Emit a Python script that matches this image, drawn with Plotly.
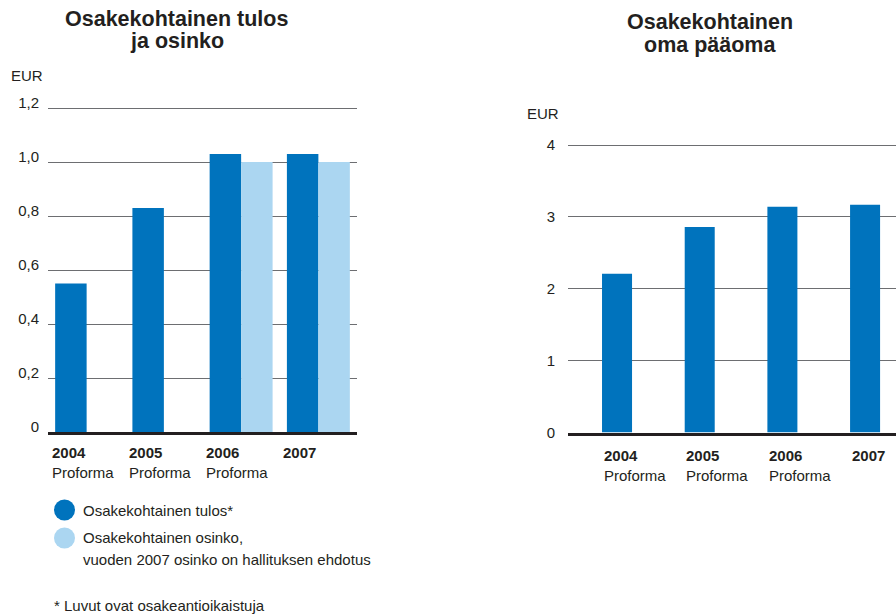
import plotly.graph_objects as go

# ---- data ----
years = ["2004", "2005", "2006", "2007"]
year_sub = ["Proforma", "Proforma", "Proforma", ""]
eps = [0.55, 0.83, 1.03, 1.03]          # Osakekohtainen tulos
dividend = [None, None, 1.00, 1.00]      # Osakekohtainen osinko
equity = [2.21, 2.86, 3.14, 3.17]        # Osakekohtainen oma pääoma

left_ticks = [0, 0.2, 0.4, 0.6, 0.8, 1.0, 1.2]
left_ticktext = ["0", "0,2", "0,4", "0,6", "0,8", "1,0", "1,2"]
right_ticks = [0, 1, 2, 3, 4]
right_ticktext = ["0", "1", "2", "3", "4"]

DARK = "#0073BD"
LIGHT = "#ABD6F1"
TXT = "#231f20"
GRID = "#6d6e71"
FONT = "Liberation Sans"

W, H = 896, 614


def px(x):
    return x / W


def py(y):
    return 1 - y / H


fig = go.Figure()
fig.add_trace(go.Bar(x=years, y=eps, marker_color=DARK, xaxis="x", yaxis="y",
                     name="Osakekohtainen tulos*"))
fig.add_trace(go.Bar(x=years, y=dividend, marker_color=LIGHT, xaxis="x", yaxis="y",
                     name="Osakekohtainen osinko"))
fig.add_trace(go.Bar(x=years, y=equity, marker_color=DARK, xaxis="x2", yaxis="y2",
                     width=0.363, name="Osakekohtainen oma pääoma"))
for t in fig.data:
    t.marker.line.width = 0

axis_common = dict(showgrid=False, zeroline=False, showline=True, linecolor=TXT,
                   linewidth=2.5, showticklabels=False, ticks="", fixedrange=True)
yaxis_common = dict(showgrid=True, gridcolor=GRID, gridwidth=1.2, zeroline=False,
                    showline=False, ticks="", tickfont=dict(family=FONT, size=15, color=TXT),
                    fixedrange=True, automargin=False)

L_TOP, R_TOP = 1.2 + 2 / 270, 4 + 2 / 71.9

fig.update_layout(
    width=W, height=H, autosize=False, margin=dict(l=0, r=0, t=0, b=0, pad=0),
    paper_bgcolor="white", plot_bgcolor="white",
    showlegend=False, barmode="group", bargap=0.185, bargroupgap=0,
    font=dict(family=FONT, color=TXT),
    xaxis=dict(domain=[px(48), px(357)], type="category", categoryorder="array",
               categoryarray=years, range=[-0.5, 3.5], anchor="y", **axis_common),
    yaxis=dict(domain=[py(432), py(106)], range=[0, L_TOP], tickvals=left_ticks,
               ticktext=left_ticktext, anchor="x", ticklabelstandoff=8,
               ticklabelshift=-5, **yaxis_common),
    xaxis2=dict(domain=[px(568), 1], type="category", categoryorder="array",
                categoryarray=years, range=[-0.593, 3.374], anchor="y2", **axis_common),
    yaxis2=dict(domain=[py(432.5), py(143)], range=[0, R_TOP], tickvals=right_ticks,
                ticktext=right_ticktext, anchor="x2", ticklabelstandoff=12,
                **yaxis_common),
)

ann = []


def text(x, y, s, size=15, bold=False, xanchor="left", **kw):
    ann.append(dict(x=px(x), y=py(y), xref="paper", yref="paper", text=s,
                    showarrow=False, xanchor=xanchor, yanchor="middle",
                    font=dict(family=FONT, size=size, color=TXT,
                              weight="bold" if bold else "normal"), **kw))


# titles
text(176.5, 19, "Osakekohtainen tulos", size=21.5, bold=True, xanchor="center")
text(176.5, 41, "ja osinko", size=21.5, bold=True, xanchor="center")
text(709.5, 22, "Osakekohtainen", size=21.5, bold=True, xanchor="center")
text(709.5, 44.5, "oma pääoma", size=21.5, bold=True, xanchor="center")

# unit labels
text(9, 75.5, "EUR")
text(525, 113.5, "EUR")

# category labels (category axes take the serial index as position)
for i, yr in enumerate(years):
    s = "<b>" + yr + "</b>" + ("<br>" + year_sub[i] if year_sub[i] else "")
    ann.append(dict(x=i, xref="x", y=py(441.5), yref="paper", text=s, showarrow=False,
                    xanchor="left", yanchor="top", align="left", xshift=-37,
                    font=dict(family=FONT, size=15, color=TXT)))
    ann.append(dict(x=i, xref="x2", y=py(444.5), yref="paper", text=s, showarrow=False,
                    xanchor="left", yanchor="top", align="left", xshift=-15.5,
                    font=dict(family=FONT, size=15, color=TXT)))

# legend
text(81, 510, "Osakekohtainen tulos*")
text(81, 537.5, "Osakekohtainen osinko,")
text(81, 559.5, "vuoden 2007 osinko on hallituksen ehdotus")
text(52, 605, "* Luvut ovat osakeantioikaistuja")

fig.update_layout(annotations=ann)

shapes = []
for cy, col in [(510, DARK), (538, LIGHT)]:
    shapes.append(dict(type="circle", xref="paper", yref="paper",
                       x0=px(54), x1=px(75), y0=py(cy + 10.5), y1=py(cy - 10.5),
                       fillcolor=col, line=dict(width=0)))
fig.update_layout(shapes=shapes)

fig.write_html("out.html", config={"displayModeBar": False},
               post_script="document.body.style.margin='0';document.body.style.padding='0';")
